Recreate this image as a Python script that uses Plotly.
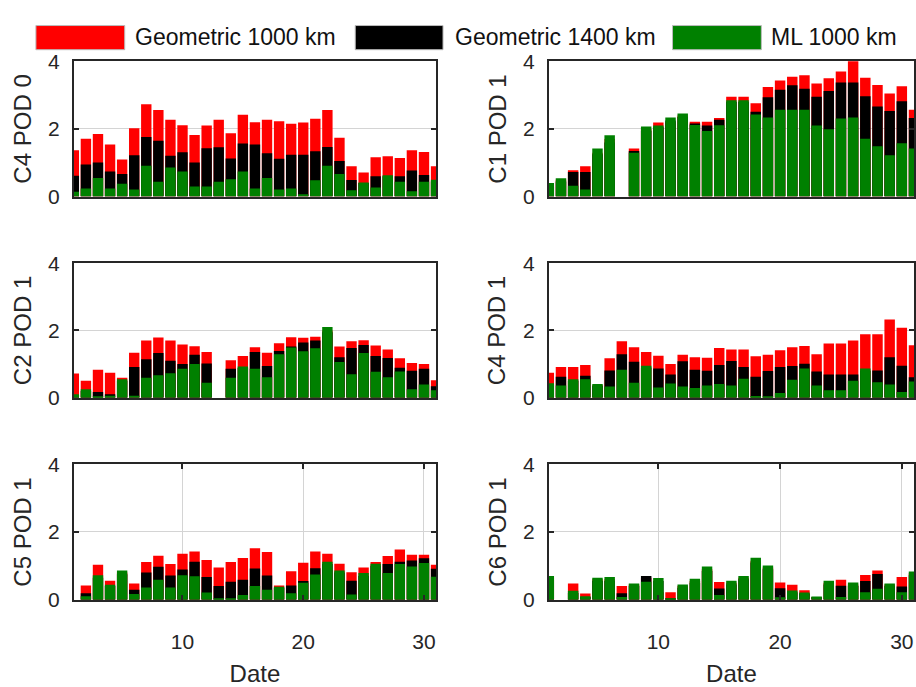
import plotly.graph_objects as go
from plotly.subplots import make_subplots

days = list(range(1, 32))

series_names = ["Geometric 1000 km", "Geometric 1400 km", "ML 1000 km"]
series_colors = ["#ff0000", "#000000", "#008000"]

panel_titles = ["C4 POD 0", "C1 POD 1", "C2 POD 1", "C4 POD 1", "C5 POD 1", "C6 POD 1"]

# ---- C4 POD 0 ----
c4p0_geo1000 = [1.37,1.71,1.85,1.54,1.10,2.02,2.73,2.56,2.27,2.11,1.82,2.10,2.27,1.87,2.42,2.20,2.27,2.23,2.15,2.19,2.30,2.56,1.74,0.90,0.71,1.16,1.19,1.14,1.37,1.32,0.90]
c4p0_geo1400 = [0.62,0.95,1.01,0.74,0.67,1.22,1.76,1.65,1.21,1.31,1.01,1.43,1.46,1.13,1.57,1.54,1.28,1.12,1.24,1.24,1.34,1.47,1.05,0.49,0.40,0.60,0.60,0.60,0.77,0.64,0.45]
c4p0_ml1000  = [0.14,0.24,0.55,0.24,0.38,0.21,0.91,0.44,0.86,0.74,0.30,0.30,0.44,0.51,0.74,0.24,0.55,0.21,0.24,0.07,0.48,0.91,0.67,0.19,0.42,0.27,0.63,0.44,0.16,0.44,0.50]

# ---- C1 POD 1 ----
c1p1_geo1000 = [0.35,0.50,0.78,0.90,1.30,1.70,None,1.42,2.00,2.19,2.20,2.40,2.21,2.21,2.32,2.95,2.95,2.76,3.24,3.43,3.54,3.59,3.34,3.50,3.70,4.05,3.51,3.30,3.05,3.26,2.57]
c1p1_geo1400 = [0.30,0.45,0.73,0.73,1.25,1.60,None,1.35,1.95,2.05,2.25,2.35,2.16,2.10,2.27,2.80,2.80,2.51,2.94,3.16,3.29,3.19,2.95,3.12,3.37,3.37,2.97,2.66,2.53,2.82,2.32]
c1p1_ml1000  = [0.40,0.54,0.32,0.21,1.42,1.81,None,1.30,2.07,2.10,2.34,2.46,2.12,1.94,2.11,2.85,2.85,2.43,2.34,2.57,2.57,2.57,2.10,1.99,2.31,2.34,1.71,1.49,1.22,1.58,1.42]

# ---- C2 POD 1 ----
c2p1_geo1000 = [0.72,0.50,0.83,0.74,0.59,1.34,1.70,1.79,1.70,1.58,1.53,1.36,None,1.11,1.24,1.50,1.34,1.62,1.80,1.78,1.81,2.00,1.52,1.68,1.71,1.55,1.43,1.17,1.03,1.00,0.52]
c2p1_geo1400 = [0.08,0.20,0.17,0.10,0.50,0.91,1.14,1.33,1.10,1.00,1.28,1.02,None,0.86,0.88,1.36,0.94,1.39,1.52,1.64,1.70,1.95,1.20,1.48,1.57,1.24,1.18,0.89,0.80,0.86,0.34]
c2p1_ml1000  = [0.10,0.25,0.02,0.06,0.55,0.06,0.59,0.67,0.73,0.86,1.00,0.44,None,0.59,0.93,0.86,0.61,1.29,1.49,1.38,1.47,2.10,1.06,0.70,1.33,0.77,0.61,0.78,0.25,0.39,0.22]

# ---- C4 POD 1 ----
c4p1_geo1000 = [0.74,0.91,0.91,0.97,0.38,1.17,1.68,1.50,1.36,1.25,1.00,1.28,1.20,1.19,1.48,1.43,1.43,1.23,1.28,1.41,1.50,1.54,1.29,1.61,1.61,1.70,1.89,1.89,2.33,2.08,1.56]
c4p1_geo1400 = [0.40,0.62,0.50,0.65,0.35,0.81,1.29,1.07,0.90,0.87,0.69,1.08,0.83,0.80,0.97,1.09,0.91,0.62,0.79,0.91,0.94,1.01,0.78,0.69,0.69,0.69,0.80,0.81,1.20,0.95,0.61]
c4p1_ml1000  = [0.43,0.36,0.55,0.55,0.41,0.33,0.83,0.44,0.95,0.30,0.42,0.33,0.29,0.36,0.41,0.36,0.56,0.05,0.03,0.14,0.53,0.87,0.36,0.22,0.22,0.50,0.87,0.46,0.39,0.17,0.48]

# ---- C5 POD 1 ----
c5p1_geo1000 = [None,0.42,1.03,0.56,0.80,0.48,1.11,1.30,1.05,1.36,1.42,1.17,0.95,1.11,1.23,1.52,1.41,0.42,0.84,1.09,1.42,1.36,1.06,0.81,0.95,1.11,1.29,1.48,1.33,1.33,1.03]
c5p1_geo1400 = [None,0.19,0.65,0.40,0.75,0.29,0.80,0.97,0.71,0.89,1.12,0.67,0.40,0.53,0.59,0.92,0.71,0.35,0.42,0.55,0.93,1.05,0.80,0.56,0.70,1.00,1.05,1.12,1.16,1.22,0.91]
c5p1_ml1000  = [None,0.10,0.72,0.44,0.86,0.17,0.36,0.59,0.36,0.72,0.69,0.21,0.02,0.02,0.14,0.40,0.29,0.38,0.19,0.50,0.74,1.12,0.86,0.15,0.79,1.06,0.79,1.05,0.98,1.08,0.68]

# ---- C6 POD 1 ----
c6p1_geo1000 = [0.65,None,0.48,0.18,0.60,0.60,0.40,0.45,0.65,0.22,0.22,0.40,0.55,0.90,0.52,0.50,0.65,1.15,0.95,0.51,0.44,0.28,0.08,0.50,0.59,0.45,0.73,0.86,0.45,0.67,0.78]
c6p1_geo1400 = [0.60,None,0.20,0.08,0.55,0.55,0.19,0.40,0.70,0.55,0.01,0.35,0.50,0.85,0.33,0.45,0.60,1.10,0.90,0.34,0.22,0.18,0.07,0.45,0.41,0.40,0.55,0.76,0.40,0.39,0.72]
c6p1_ml1000  = [0.70,None,0.26,0.10,0.65,0.67,0.08,0.48,0.53,0.64,0.01,0.45,0.62,0.98,0.14,0.56,0.70,1.24,1.01,0.07,0.27,0.21,0.09,0.56,0.08,0.51,0.22,0.32,0.48,0.22,0.83]

panels = [
    (c4p0_geo1000, c4p0_geo1400, c4p0_ml1000),
    (c1p1_geo1000, c1p1_geo1400, c1p1_ml1000),
    (c2p1_geo1000, c2p1_geo1400, c2p1_ml1000),
    (c4p1_geo1000, c4p1_geo1400, c4p1_ml1000),
    (c5p1_geo1000, c5p1_geo1400, c5p1_ml1000),
    (c6p1_geo1000, c6p1_geo1400, c6p1_ml1000),
]

W, H = 916, 687
FONT = "Liberation Sans, Arial, sans-serif"
TXT = "#262626"

fig = make_subplots(rows=3, cols=2)

for i, series in enumerate(panels):
    r, c = i // 2 + 1, i % 2 + 1
    for vals, name, col in zip(series, series_names, series_colors):
        fig.add_trace(go.Bar(x=days, y=vals, name=name, marker_color=col,
                             marker_line_width=0, width=0.86, showlegend=False),
                      row=r, col=c)

fig.update_layout(barmode="overlay", width=W, height=H,
                  margin=dict(l=0, r=0, t=0, b=0),
                  plot_bgcolor="white", paper_bgcolor="white",
                  font=dict(family=FONT, color=TXT))

# panel positions (pixels)
col_x = [(74, 437), (550, 917)]
row_y = [(51, 191), (260, 399), (468, 608)]

for i in range(6):
    r, c = i // 2, i % 2
    ax_n = i + 1
    xs = "xaxis" if ax_n == 1 else f"xaxis{ax_n}"
    ys = "yaxis" if ax_n == 1 else f"yaxis{ax_n}"
    x0, x1 = col_x[c]
    y0, y1 = row_y[r]
    bottom = (r == 2)
    fig.layout[xs].update(
        domain=[x0 / W, min(x1 / W, 1.0)], range=[1, 31],
        showline=True, linecolor=TXT, linewidth=2, mirror="ticks" if bottom else True,
        ticks="inside" if bottom else "", ticklen=5, tickwidth=1.5, tickcolor=TXT,
        tickvals=[10, 20, 30], showticklabels=bottom,
        tickfont=dict(size=21, color=TXT), ticklabelstandoff=22,
        showgrid=bottom, gridcolor="#d4d4d4", gridwidth=1, zeroline=False,
        title=dict(text="Date" if bottom else "", font=dict(size=24, color=TXT), standoff=16),
    )
    fig.layout[ys].update(
        domain=[1 - y1 / H, 1 - y0 / H], range=[0, 4],
        showline=True, linecolor=TXT, linewidth=2, mirror="ticks",
        ticks="inside", ticklen=5, tickwidth=1.5, tickcolor=TXT,
        tickvals=[0, 2, 4], tickfont=dict(size=21, color=TXT), ticklabelstandoff=8,
        showgrid=True, gridcolor="#d4d4d4", gridwidth=1, zeroline=False,
        title=dict(text=panel_titles[i], font=dict(size=24, color=TXT), standoff=10),
    )

# legend drawn as swatches + text in a single row at the top
legend_boxes = [(36, 125), (356, 444), (674, 763)]
legend_text_x = [133, 454, 771]
for (bx0, bx1), tx, name, col in zip(legend_boxes, legend_text_x, series_names, series_colors):
    fig.add_shape(type="rect", xref="paper", yref="paper",
                  x0=bx0 / W, x1=bx1 / W, y0=1 - 39 / H, y1=1 - 14 / H,
                  fillcolor=col, line=dict(color="#bbbbbb", width=1))
    fig.add_annotation(xref="paper", yref="paper", x=tx / W, y=1 - 25.5 / H,
                       xanchor="left", yanchor="middle", text=name, showarrow=False,
                       font=dict(size=23, color="#111111", family=FONT))

fig.write_html("out.html")
